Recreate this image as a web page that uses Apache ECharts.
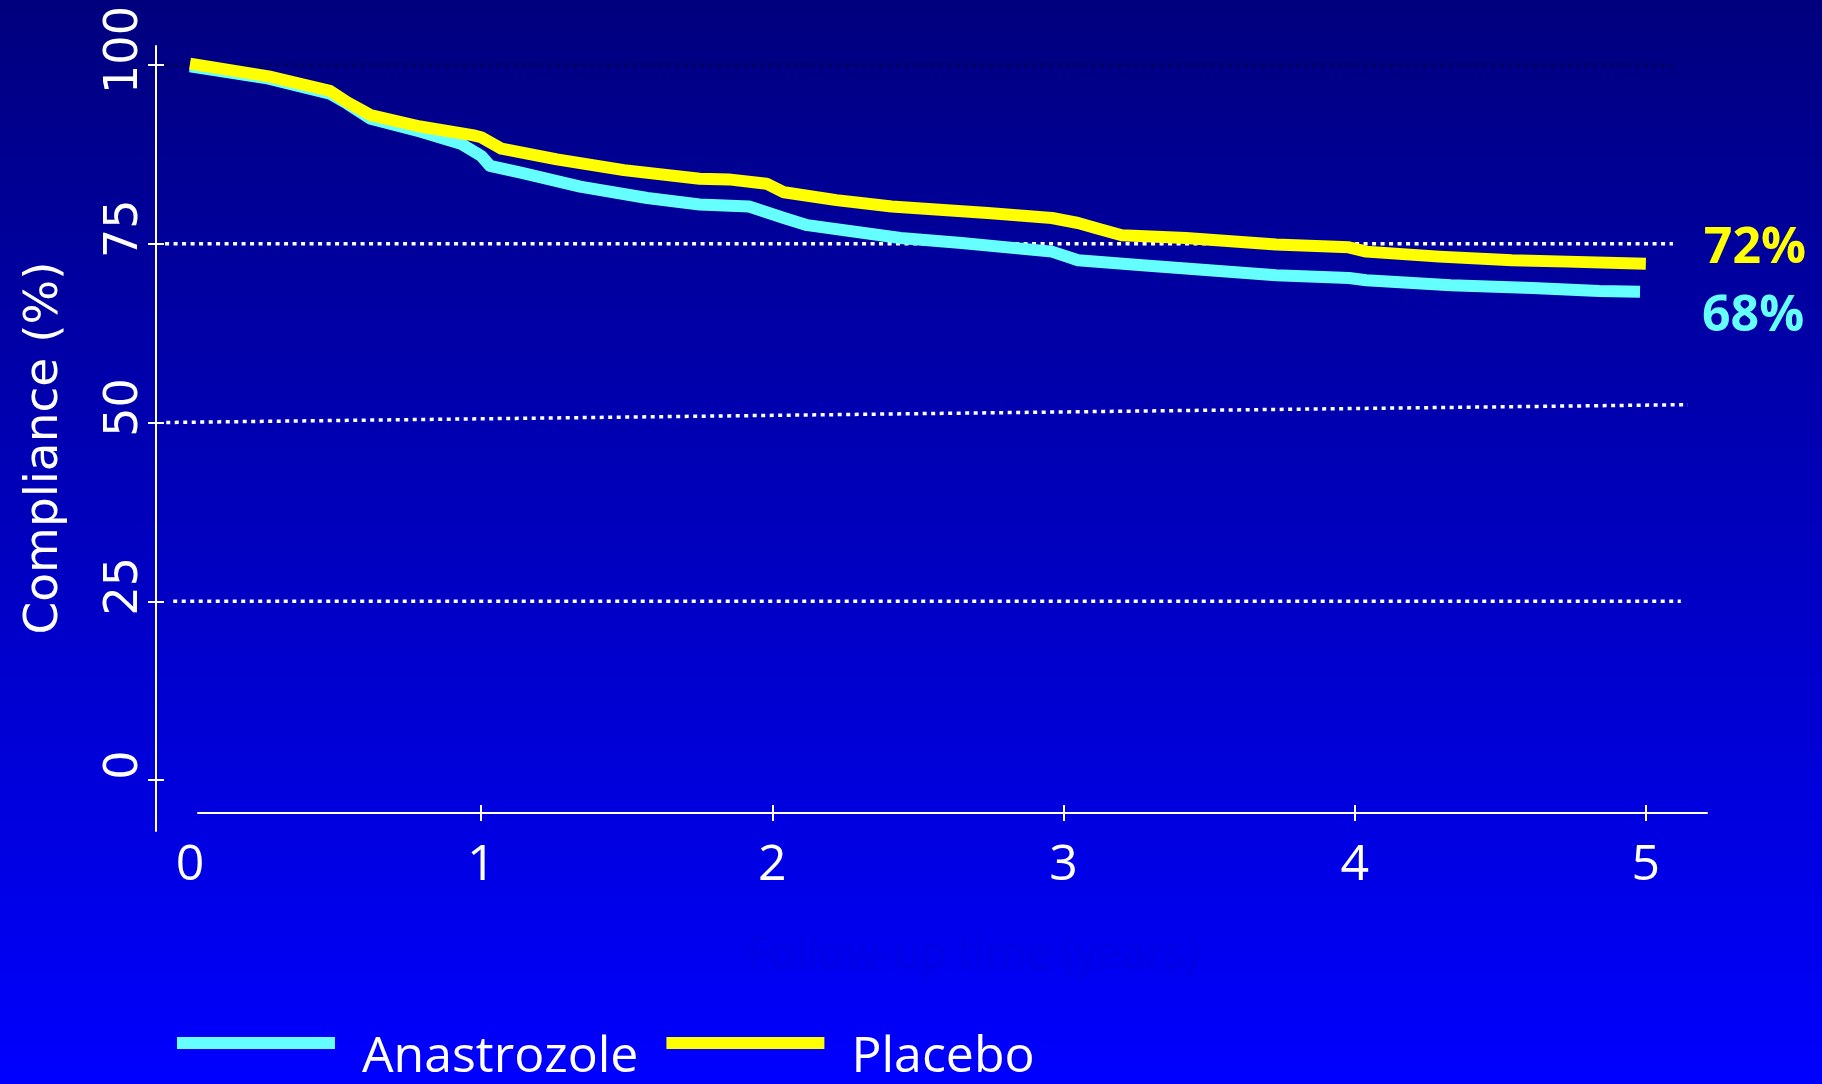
<!DOCTYPE html>
<html><head><meta charset="utf-8">
<script src="https://cdn.jsdelivr.net/npm/echarts@6/dist/echarts.min.js"></script>
<style>html,body{margin:0;padding:0;background:#000080}#chart{width:1822px;height:1084px}</style>
</head><body><div id="chart"></div>
<script>
// ---- data ----
const seriesNames = ['Anastrozole', 'Placebo'];
const anastrozoleYears = [0, 0.27, 0.48, 0.54, 0.62, 0.79, 0.93, 1.00, 1.03, 1.14, 1.34, 1.57, 1.75, 1.92, 2.04, 2.12, 2.44, 2.65, 2.96, 3.05, 3.27, 3.50, 3.73, 3.98, 4.04, 4.33, 4.61, 4.84, 4.98];
const anastrozoleCompliance = [99.8, 98.1, 96.0, 94.6, 92.5, 90.7, 89.0, 87.3, 85.9, 84.9, 83.0, 81.4, 80.5, 80.2, 78.6, 77.6, 75.8, 75.1, 73.9, 72.7, 72.0, 71.3, 70.6, 70.2, 69.9, 69.2, 68.8, 68.4, 68.3];
const placeboYears = [0, 0.27, 0.48, 0.54, 0.62, 0.79, 0.97, 1.00, 1.07, 1.26, 1.49, 1.75, 1.85, 1.98, 2.04, 2.22, 2.41, 2.74, 2.96, 3.05, 3.11, 3.20, 3.42, 3.73, 3.98, 4.04, 4.29, 4.54, 4.73, 5.00];
const placeboCompliance = [100.2, 98.4, 96.4, 94.8, 93.0, 91.4, 90.2, 89.9, 88.3, 86.8, 85.3, 84.1, 84.0, 83.4, 82.2, 81.1, 80.2, 79.3, 78.6, 77.9, 77.2, 76.2, 75.8, 74.9, 74.5, 73.9, 73.2, 72.7, 72.5, 72.2];
const xTickLabels = [0, 1, 2, 3, 4, 5];
const yTickLabels = [0, 25, 50, 75, 100];
const gridLevels = [25, 50, 75, 100];
const xAxisTitle = 'Follow-up time (years)';
const yAxisTitle = 'Compliance (%)';

// ---- layout / style (not data) ----
const gridlineExtent = {
  25: { from: [-0.058, 25], to: [5.12, 25], color: '#ffffff' },
  50: { from: [-0.082, 50], to: [5.144, 52.5], color: '#ffffff' },
  75: { from: [-0.086, 75], to: [5.093, 75], color: '#ffffff' },
  100: { from: [-0.086, 100], to: [5.093, 100], color: '#00005e' }
};
const colors = { Anastrozole: '#66ffff', Placebo: '#ffff00' };
const endLabelOffsets = { Anastrozole: { distance: 62, offset: [0, 25] }, Placebo: { distance: 58, offset: [0, -15] } };
// legend icon: a 158x12 bar at the top of a taller (invisible) box so the text sits lower
const legendIcon = 'path://M0,0H158V12H0Z M0,42H0.01V42.01H0Z';

const zip = (xs, ys) => xs.map((x, i) => [x, ys[i]]);
const seriesData = {
  Anastrozole: zip(anastrozoleYears, anastrozoleCompliance),
  Placebo: zip(placeboYears, placeboCompliance)
};

// gridlines live in their own (hidden-axis) grid that extends a little left of year 0
const gridSeries = gridLevels.map(lv => ({
  name: 'grid' + lv,
  type: 'line',
  xAxisIndex: 3, yAxisIndex: 3,
  data: [gridlineExtent[lv].from, gridlineExtent[lv].to],
  symbol: 'none', clip: false, silent: true, z: 1,
  lineStyle: { color: gridlineExtent[lv].color, width: 3.5, type: [4, 4.5], cap: 'butt' }
}));

const curveSeries = seriesNames.map(n => ({
  name: n,
  type: 'line',
  xAxisIndex: 0, yAxisIndex: 0,
  data: seriesData[n],
  symbol: 'none', clip: false, z: 3,
  lineStyle: { color: colors[n], width: 12, cap: 'butt', join: 'round' },
  itemStyle: { color: colors[n] },
  endLabel: {
    show: true,
    formatter: p => Math.round(p.value[1]) + '%',
    color: colors[n],
    fontFamily: 'Open Sans', fontWeight: 'bold', fontSize: 50,
    distance: endLabelOffsets[n].distance,
    offset: endLabelOffsets[n].offset
  }
}));

const white = '#ffffff';
const option = {
  animation: false,
  backgroundColor: {
    type: 'linear', x: 0, y: 0, x2: 0, y2: 1,
    colorStops: [{ offset: 0, color: '#00007e' }, { offset: 1, color: '#0000ff' }]
  },
  grid: [
    { left: 190, right: 115, top: 65, bottom: 304 },
    { left: 156, width: 1, top: 46, bottom: 253 },
    { left: 161, right: 115, top: 65, bottom: 304 },
    { left: 198, right: 115, top: 65, bottom: 304 }
  ],
  legend: {
    data: seriesNames,
    left: 172, top: 1028,
    icon: legendIcon, itemWidth: 158, itemHeight: 42, itemGap: 28,
    textStyle: { color: white, fontFamily: 'Open Sans', fontSize: 50, padding: [0, 0, 0, 22] }
  },
  xAxis: [
    {
      gridIndex: 0, type: 'value', min: 0, max: 5.21, interval: 1, position: 'bottom', offset: 33,
      axisLine: { show: false, onZero: false },
      axisTick: { show: true, inside: false, length: 8, lineStyle: { color: white, width: 2 }, customValues: xTickLabels.slice(1) },
      axisLabel: { color: white, fontFamily: 'Open Sans', fontSize: 50, margin: 28, customValues: xTickLabels,
        formatter: v => Number.isInteger(v) ? String(v) : '' },
      splitLine: { show: false },
      name: xAxisTitle, nameLocation: 'middle', nameGap: 120,
      nameTextStyle: { color: '#0000e4', fontFamily: 'Open Sans', fontSize: 44, padding: [0, 0, 0, 48] }
    },
    {
      gridIndex: 0, type: 'value', min: 0, max: 5.21, interval: 1, position: 'bottom', offset: 33,
      axisLine: { show: false, onZero: false },
      axisTick: { show: true, inside: true, length: 8, lineStyle: { color: white, width: 2 }, customValues: xTickLabels.slice(1) },
      axisLabel: { show: false }, splitLine: { show: false }
    },
    { gridIndex: 1, type: 'value', min: 0, max: 1, show: false },
    { gridIndex: 2, type: 'value', min: -0.1, max: 5.21, show: false },
    {
      gridIndex: 3, type: 'value', min: 0, max: 1, position: 'bottom', offset: 33,
      axisLine: { show: true, onZero: false, lineStyle: { color: white, width: 2 } },
      axisTick: { show: false }, axisLabel: { show: false }, splitLine: { show: false }
    }
  ],
  yAxis: [
    {
      gridIndex: 0, type: 'value', min: 0, max: 100, interval: 25, position: 'left', offset: 34,
      axisLine: { show: false, onZero: false },
      axisTick: { show: true, inside: false, length: 8, lineStyle: { color: white, width: 2 } },
      axisLabel: { color: white, fontFamily: 'DejaVu Sans', fontSize: 46, rotate: 90, margin: 8, padding: [0, 0, 0, 30], customValues: yTickLabels },
      splitLine: { show: false }
    },
    {
      gridIndex: 0, type: 'value', min: 0, max: 100, interval: 25, position: 'left', offset: 34,
      axisLine: { show: false, onZero: false },
      axisTick: { show: true, inside: true, length: 8, lineStyle: { color: white, width: 2 } },
      axisLabel: { show: false }, splitLine: { show: false }
    },
    {
      gridIndex: 1, type: 'value', min: 0, max: 1, position: 'left',
      axisLine: { show: true, onZero: false, lineStyle: { color: white, width: 2 } },
      axisTick: { show: false }, axisLabel: { show: false }, splitLine: { show: false },
      name: yAxisTitle, nameLocation: 'middle', nameRotate: 90, nameGap: 88,
      nameTextStyle: { color: white, fontFamily: 'DejaVu Sans', fontSize: 47, padding: [0, 19, 0, 0] }
    },
    { gridIndex: 2, type: 'value', min: 0, max: 100, show: false },
    { gridIndex: 3, type: 'value', min: 0, max: 1, show: false }
  ],
  series: gridSeries.concat(curveSeries)
};

const chart = echarts.init(document.getElementById('chart'), null, { renderer: 'canvas' });
chart.setOption(option);
</script>
</body></html>
